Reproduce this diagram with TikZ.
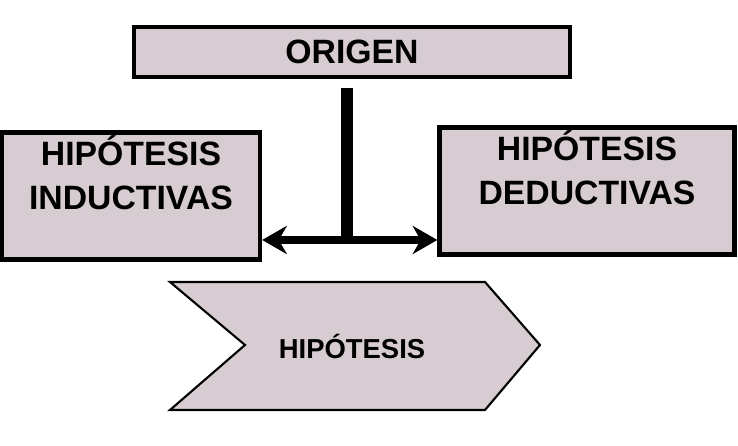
\documentclass[tikz,border=0pt]{standalone}
\usepackage{fontspec}
\setmainfont{Liberation Sans}
\usetikzlibrary{positioning}
\usetikzlibrary{arrows.meta}
\definecolor{boxfill}{RGB}{214,204,210}
\begin{document}
\begin{tikzpicture}[
            x = 0.01cm, y = -0.01cm,
            > = stealth, % arrow head style
            semithick
            ]

        \tikzset{box/.style={draw, line width=1.2pt, fill=boxfill, inner sep=0pt,
            align=center, font=\fontsize{9.6}{12.5}\selectfont\bfseries}}

        \useasboundingbox (0,0) rectangle (738,446);

	% boxes
        \node[box, minimum width=4.35cm, minimum height=0.5cm] (O) at (352,52) {ORIGEN};
        \node[box, minimum width=2.58cm, minimum height=1.27cm] (I) at (131,196) {HIPÓTESIS\\INDUCTIVAS\\[1pt]};
        \node[box, minimum width=2.95cm, minimum height=1.27cm] (D) at (587,191) {HIPÓTESIS\\DEDUCTIVAS\\[1pt]};

	% chevron
        \draw[line width=0.6pt, fill=boxfill] (170,282) -- (485,282) -- (540,345)
              -- (485,410) -- (170,410) -- (245,345) -- cycle;
        \node[font=\fontsize{7.8}{9}\selectfont\bfseries] (H) at (352,346) {HIPÓTESIS};

	% connectors
        \coordinate (J) at (347,240);
        \coordinate (T) at (347,88);
        \draw[line width=3.5pt] (T) -- (J);
        \draw[line width=2pt, -{Stealth[length=7pt,width=8pt]}] (J) -- (I.east |- J);
        \draw[line width=2pt, -{Stealth[length=7pt,width=8pt]}] (J) -- (D.west |- J);
\end{tikzpicture}
\end{document}
